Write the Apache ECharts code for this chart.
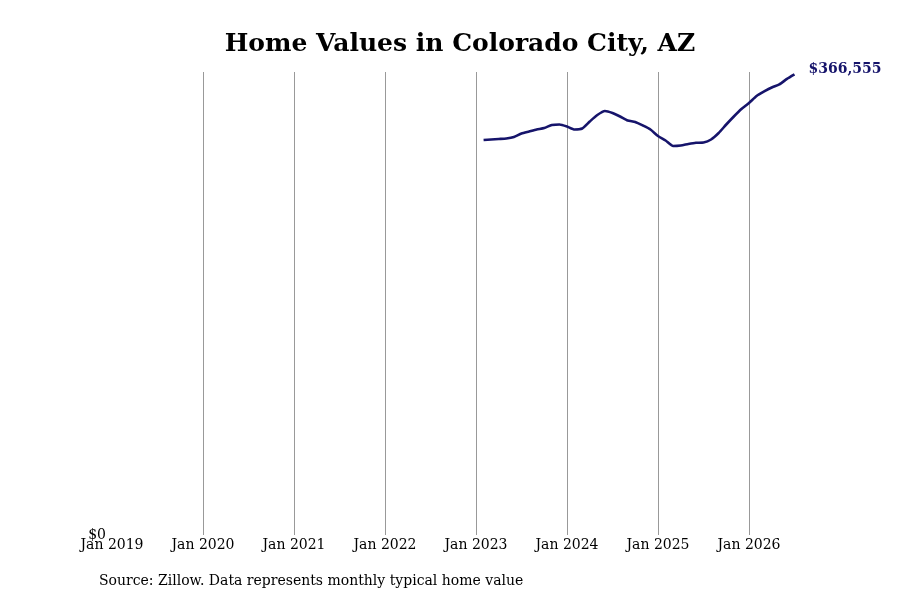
<!DOCTYPE html>
<html>
<head>
<meta charset="utf-8">
<script src="https://cdn.jsdelivr.net/npm/echarts@6/dist/echarts.min.js"></script>
<style>
  html, body { margin: 0; padding: 0; background: #fff; }
  #main { width: 900px; height: 600px; }
</style>
</head>
<body>
<div id="main"></div>
<script>
var myChart = echarts.init(document.getElementById('main'));

// months Jan 2019 .. Jul 2026
const years = [2019, 2020, 2021, 2022, 2023, 2024, 2025, 2026];
const monthNames = ['Jan', 'Feb', 'Mar', 'Apr', 'May', 'Jun', 'Jul', 'Aug', 'Sep', 'Oct', 'Nov', 'Dec'];
const lastMonthOf2026 = 7;

// typical home value, Feb 2023 .. Jul 2026
const firstMonth = '2023-02';
const homeValues = [
  314361, 314760, 315158, 315557, 316752, 319541, 321135, 322728, 323924, 326314, 326713,
  325119, 322728, 323525, 329103, 334283, 337470, 335876, 333087, 329900, 328705, 325916, 322728,
  317547, 313963, 309580, 309978, 311174, 312130, 312369, 314760, 319940, 326713, 333087, 339064,
  343845, 349423, 353009, 356196, 358587, 362970, 366555
];
const yTicks = [0];

const categories = [];
years.forEach(function (y) {
  const n = y === 2026 ? lastMonthOf2026 : 12;
  for (let m = 0; m < n; m++) {
    categories.push(y + '-' + String(m + 1).padStart(2, '0'));
  }
});

const startIdx = categories.indexOf(firstMonth);
const seriesData = categories.map(function (c, i) {
  const k = i - startIdx;
  return k >= 0 && k < homeValues.length ? homeValues[k] : null;
});

function monthLabel(c) {
  const parts = c.split('-');
  return monthNames[+parts[1] - 1] + ' ' + parts[0];
}

const serif = 'DejaVu Serif';

var option = {
  animation: false,
  backgroundColor: '#fff',
  title: {
    text: 'Home Values in Colorado City, AZ',
    left: 455,
    top: 27,
    textAlign: 'center',
    textStyle: {
      fontFamily: serif,
      fontWeight: 'bold',
      fontSize: 25,
      color: '#000'
    }
  },
  grid: {
    left: 112,
    right: 105.5,
    top: 72,
    bottom: 65
  },
  xAxis: {
    type: 'category',
    data: categories,
    boundaryGap: false,
    axisLine: { show: false },
    axisTick: { show: false },
    axisLabel: {
      interval: function (i, v) { return v.slice(5) === '01'; },
      formatter: function (v) { return monthLabel(v); },
      fontFamily: serif,
      fontSize: 14,
      color: '#000',
      margin: 3
    },
    splitLine: {
      show: true,
      interval: function (i, v) { return v.slice(5) === '01' && i > 0; },
      lineStyle: { color: '#999', width: 1 }
    }
  },
  yAxis: {
    type: 'value',
    min: 0,
    max: 368500,
    interval: 368500,
    axisLine: { show: false },
    axisTick: { show: false },
    splitLine: { show: false },
    axisLabel: {
      fontFamily: serif,
      fontSize: 14,
      color: '#000',
      margin: 6,
      formatter: function (v) {
        return yTicks.indexOf(v) >= 0 ? '$' + v.toLocaleString('en-US') : '';
      }
    }
  },
  series: [
    {
      type: 'line',
      data: seriesData,
      showSymbol: false,
      smooth: 0.2,
      lineStyle: { color: '#16146b', width: 2.6 },
      itemStyle: { color: '#16146b' },
      endLabel: {
        show: true,
        distance: 14,
        offset: [0, -5],
        fontFamily: serif,
        fontWeight: 'bold',
        fontSize: 14,
        color: '#16146b',
        formatter: function (p) { return '$' + p.value.toLocaleString('en-US'); }
      }
    }
  ],
  graphic: [
    {
      type: 'text',
      left: 99,
      top: 574,
      style: {
        text: 'Source: Zillow. Data represents monthly typical home value',
        font: '14px DejaVu Serif',
        fill: '#000'
      }
    }
  ]
};

myChart.setOption(option);
</script>
</body>
</html>
